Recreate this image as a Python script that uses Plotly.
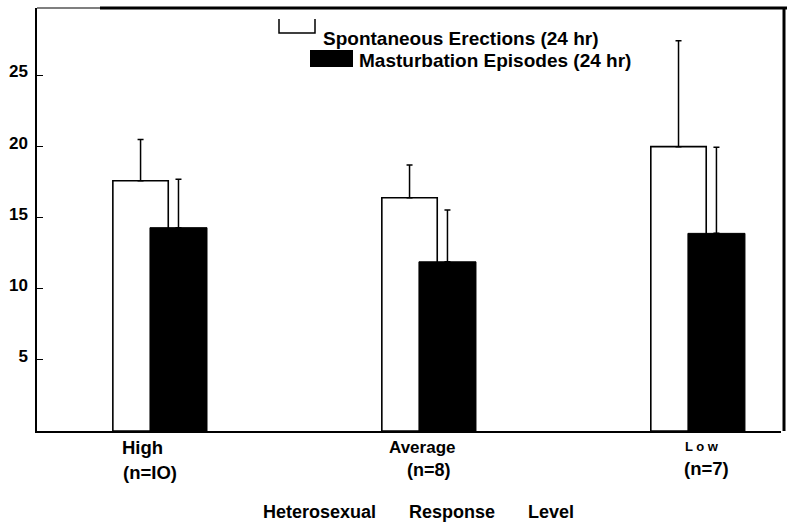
import plotly.graph_objects as go

# ---- data ----
categories = ["High", "Average", "Low"]
category_text = ["High", "Average", "L o w"]
n_labels = ["(n=IO)", "(n=8)", "(n=7)"]
spontaneous = [17.6, 16.4, 20.0]
spontaneous_err = [2.9, 2.3, 7.45]
masturbation = [14.3, 11.9, 13.9]
masturbation_err = [3.4, 3.65, 6.05]
y_ticks = [5, 10, 15, 20, 25]
series_names = ["Spontaneous Erections (24 hr)", "Masturbation Episodes (24 hr)"]
axis_title_words = ["Heterosexual", "Response", "Level"]

W, H = 788, 528
L, R, T, B = 37, 7, 8, 97
PW, PH = W - L - R, H - T - B

def px(x):
    return (x - L) / PW

def py(y):
    return (H - B - y) / PH

FONT = "Liberation Sans, Arial, Helvetica, sans-serif"
xpos = list(range(len(categories)))

fig = go.Figure()
fig.add_trace(go.Bar(
    x=xpos, y=spontaneous, name=series_names[0],
    width=0.206, offset=-0.175,
    marker=dict(color="white", line=dict(color="black", width=1.6)),
    error_y=dict(type="data", symmetric=False, array=spontaneous_err,
                 arrayminus=[0] * 3, color="black", thickness=1.5, width=3),
    showlegend=False,
))
fig.add_trace(go.Bar(
    x=xpos, y=masturbation, name=series_names[1],
    width=0.212, offset=-0.037,
    marker=dict(color="black", line=dict(color="black", width=1)),
    error_y=dict(type="data", symmetric=False, array=masturbation_err,
                 arrayminus=[0] * 3, color="black", thickness=1.5, width=3),
    showlegend=False,
))

annotations = []
cat_shift = [(-17, -10), (-7, 0), (4, 9)]
cat_dy = [(-16, -41), (-16, -39), (-15, -37)]
cat_size = [18.5, 17, 13]
n_size = [18.5, 18, 18.5]
for i, c in enumerate(category_text):
    annotations.append(dict(x=xpos[i], y=0, xref="x", yref="paper", text=c,
                            xanchor="center", yanchor="middle", borderpad=0,
                            showarrow=False, xshift=cat_shift[i][0], yshift=cat_dy[i][0],
                            font=dict(family=FONT, size=cat_size[i], color="black", weight=700)))
    annotations.append(dict(x=xpos[i], y=0, xref="x", yref="paper", text=n_labels[i],
                            xanchor="center", yanchor="middle", borderpad=0,
                            showarrow=False, xshift=cat_shift[i][1], yshift=cat_dy[i][1],
                            font=dict(family=FONT, size=n_size[i], color="black", weight=700)))

title_px = [319.5, 452, 551]
for w, xp in zip(axis_title_words, title_px):
    annotations.append(dict(x=px(xp), y=0, xref="paper", yref="paper", text=w,
                            xanchor="center", yanchor="middle",
                            showarrow=False, yshift=-81,
                            font=dict(family=FONT, size=18, color="black", weight=700)))

# legend texts
annotations.append(dict(x=px(321), y=py(38), xref="paper", yref="paper", text=series_names[0],
                        xanchor="left", yanchor="middle", showarrow=False,
                        font=dict(family=FONT, size=19, color="black", weight=700)))
annotations.append(dict(x=px(357), y=py(61), xref="paper", yref="paper", text=series_names[1],
                        xanchor="left", yanchor="middle", showarrow=False,
                        font=dict(family=FONT, size=19, color="black", weight=700)))

shapes = [
    # legend open box
    dict(type="path", xref="paper", yref="paper",
         path=f"M {px(279)} {py(19)} L {px(279)} {py(33)} L {px(315)} {py(33)} L {px(315)} {py(19)}",
         line=dict(color="black", width=1.5)),
    # legend filled box
    dict(type="rect", xref="paper", yref="paper", x0=px(310), x1=px(353), y0=py(67), y1=py(50),
         fillcolor="black", line=dict(color="black", width=0)),
    # top border
    dict(type="line", xref="paper", yref="paper", x0=px(37), x1=px(100), y0=py(8), y1=py(8),
         line=dict(color="black", width=1.2)),
    dict(type="line", xref="paper", yref="paper", x0=px(100), x1=px(787), y0=py(8), y1=py(8),
         line=dict(color="black", width=3)),
    # right border
    dict(type="line", xref="paper", yref="paper", x0=px(784), x1=px(784), y0=py(8), y1=py(431),
         line=dict(color="black", width=3)),
]

fig.update_layout(
    width=W, height=H,
    margin=dict(l=L, r=R, t=T, b=B),
    paper_bgcolor="white", plot_bgcolor="white",
    barmode="overlay",
    showlegend=False,
    annotations=annotations,
    shapes=shapes,
    xaxis=dict(range=[-0.457, 2.309], showticklabels=False, ticks="", showgrid=False,
               zeroline=False, showline=True, linecolor="black", linewidth=1.5),
    yaxis=dict(range=[0, 29.75], tickvals=y_ticks, ticks="inside", ticklen=6,
               tickcolor="black", tickwidth=1, showgrid=False, zeroline=False,
               showline=True, linecolor="black", linewidth=1.5, automargin=False,
               ticklabelstandoff=4, ticklabelshift=-4,
               tickfont=dict(family=FONT, size=17, color="black", weight=700)),
)

fig.write_html("out.html", config={"displayModeBar": False},
               post_script="document.body.style.margin='0';document.body.style.overflow='hidden';")
